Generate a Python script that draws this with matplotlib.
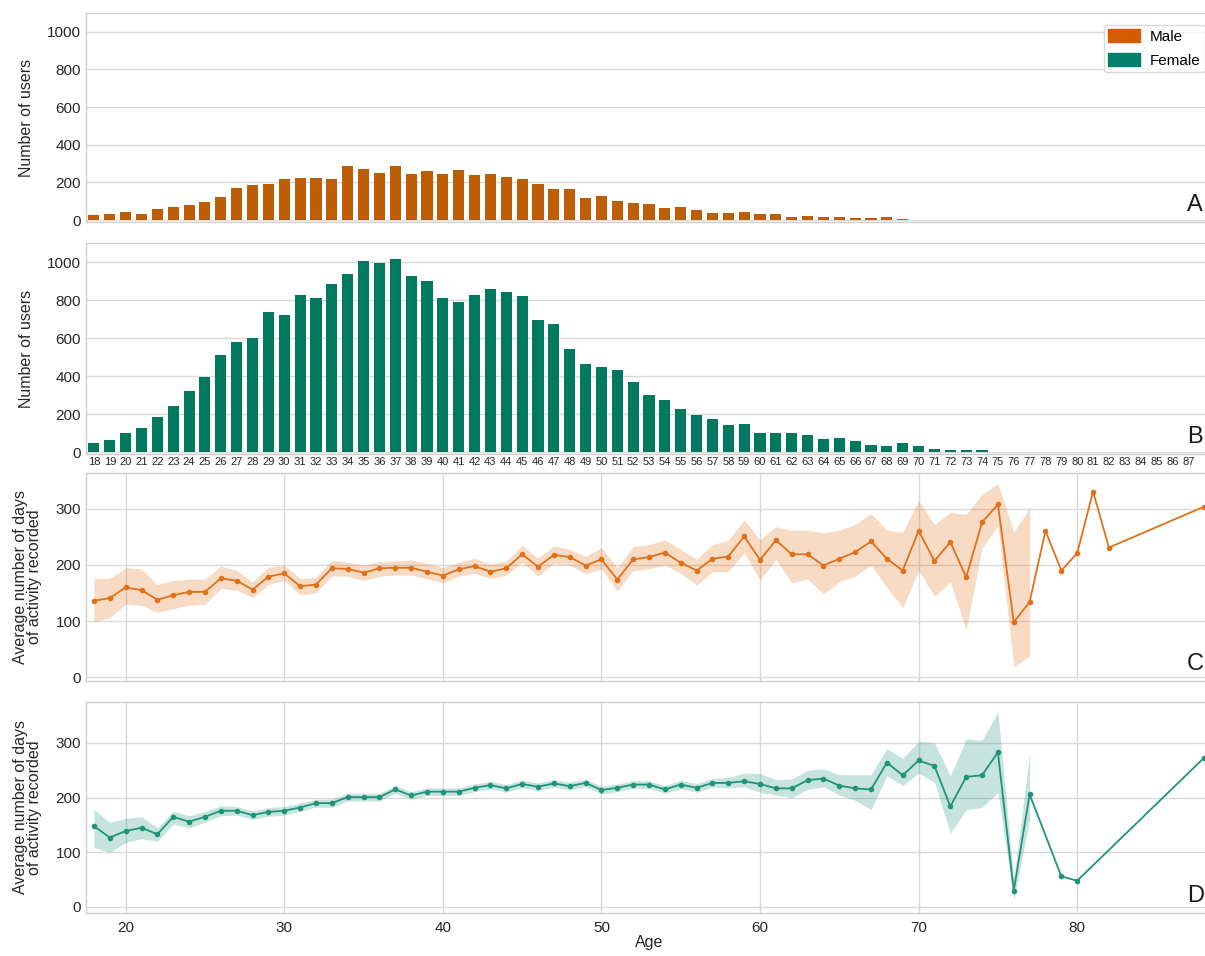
import numpy as np
import matplotlib
matplotlib.use("Agg")
import matplotlib.pyplot as plt
from matplotlib.patches import Patch

plt.rcParams["font.family"] = ["Liberation Sans", "DejaVu Sans"]

# Ages and user counts per age (panels A and B)
ages = list(range(18, 89))
male_counts = [25, 35, 42, 35, 57, 71, 81, 95, 124, 170,
               187, 194, 217, 224, 224, 217, 290, 272, 249, 290,
               244, 260, 244, 265, 237, 243, 227, 220, 192, 167,
               163, 115, 126, 101, 90, 85, 67, 71, 53, 39,
               39, 44, 32, 32, 16, 21, 16, 14, 11, 11,
               16, 7, 2, 2, 2, 2, 2, 2, 2, 2,
               1, 1, 1, 1, 1, 0, 0, 0, 0, 0, 1]
female_counts = [46, 63, 102, 127, 185, 245, 322, 396, 509, 581,
                 599, 738, 722, 827, 810, 886, 938, 1004, 996, 1014,
                 928, 898, 810, 787, 827, 856, 840, 819, 695, 672,
                 542, 463, 449, 432, 368, 302, 274, 226, 195, 174,
                 144, 149, 98, 102, 102, 91, 68, 72, 61, 39,
                 33, 46, 32, 16, 9, 9, 9, 3, 2, 2,
                 0, 1, 1, 0, 0, 0, 0, 0, 0, 0, 1]

# Average days of activity (panel C, male)
male_line_ages = list(range(18, 83)) + [88]
male_mean = [136, 141, 160, 155, 138, 146, 152, 152, 176, 172,
             156, 179, 185, 162, 165, 194, 193, 186, 194, 195,
             195, 188, 181, 192, 198, 188, 194, 219, 197, 218,
             214, 199, 210, 174, 210, 214, 222, 204, 190, 211,
             215, 251, 209, 244, 219, 219, 199, 211, 223, 242,
             211, 190, 261, 207, 241, 178, 276, 308, 98, 134,
             261, 190, 221, 331, 231, 304]
male_ci_ages = list(range(18, 78))
male_lo = [98, 106, 130, 128, 115, 122, 128, 130, 158, 155,
           142, 165, 172, 147, 150, 180, 180, 172, 180, 182,
           182, 175, 168, 180, 185, 176, 182, 205, 180, 202,
           200, 184, 193, 153, 190, 193, 200, 185, 164, 188,
           188, 222, 173, 210, 168, 175, 148, 170, 180, 200,
           160, 124, 190, 144, 170, 84, 230, 270, 18, 38]
male_hi = [176, 176, 195, 193, 165, 172, 175, 174, 198, 190,
           170, 196, 199, 176, 178, 208, 205, 200, 206, 207,
           209, 203, 195, 205, 212, 201, 207, 235, 212, 234,
           228, 215, 231, 195, 233, 236, 245, 228, 210, 236,
           244, 280, 245, 268, 262, 262, 257, 262, 272, 292,
           262, 258, 315, 272, 294, 290, 326, 345, 259, 302]

# Average days of activity (panel D, female)
female_line_ages = list(range(18, 78)) + [79, 80, 88]
female_mean = [148, 127, 139, 145, 133, 165, 156, 165, 176, 176,
               168, 174, 176, 182, 190, 190, 201, 201, 201, 215,
               204, 211, 211, 211, 218, 223, 217, 225, 220, 226,
               221, 227, 214, 218, 224, 224, 215, 224, 218, 227,
               227, 230, 225, 217, 217, 232, 235, 222, 217, 215,
               264, 241, 268, 258, 184, 238, 241, 283, 30, 206,
               56, 48, 273]
female_ci_ages = list(range(18, 78))
female_lo = [109, 100, 118, 125, 120, 152, 145, 155, 167, 168,
             160, 166, 168, 175, 183, 182, 194, 194, 194, 208,
             197, 204, 204, 204, 211, 216, 210, 218, 213, 219,
             214, 220, 207, 211, 217, 217, 208, 216, 210, 219,
             218, 220, 210, 205, 200, 215, 220, 205, 195, 178,
             240, 222, 245, 228, 135, 178, 182, 210, 13, 160]
female_hi = [178, 155, 162, 165, 145, 175, 167, 175, 185, 184,
             176, 182, 184, 190, 197, 197, 208, 208, 208, 222,
             211, 218, 218, 218, 225, 230, 224, 232, 227, 233,
             228, 234, 221, 225, 231, 231, 222, 232, 226, 235,
             237, 245, 244, 233, 234, 250, 253, 242, 242, 242,
             290, 272, 303, 300, 240, 307, 305, 357, 50, 282]

male_bar = "#bd5e06"
female_bar = "#00795f"
male_leg = "#d65b00"
female_leg = "#00806a"
male_line = "#e0711a"
female_line = "#1f9479"

W, H = 1205, 956
fig = plt.figure(figsize=(W / 100, H / 100), dpi=100)


def add_ax(top, bottom, left=86, right=1212):
    return fig.add_axes([left / W, 1 - bottom / H, (right - left) / W, (bottom - top) / H])


def style(ax):
    ax.set_facecolor("white")
    for s in ax.spines.values():
        s.set_color("#cfcfcf")
        s.set_linewidth(1.0)
    ax.grid(axis="y", color="#d9d9d9", linewidth=1.0)
    ax.set_axisbelow(True)
    ax.tick_params(length=0, labelsize=11, colors="#262626")


axA = add_ax(13, 222)
axB = add_ax(243, 454)
axC = add_ax(473, 681)
axD = add_ax(702, 913)

# Panels A and B: counts per age
for ax, counts, col in [(axA, male_counts, male_bar), (axB, female_counts, female_bar)]:
    style(ax)
    ax.bar(ages, counts, width=0.7, color=col)
    ax.set_ylim(-10, 1100)
    ax.set_yticks([0, 200, 400, 600, 800, 1000])
    ax.set_ylabel("Number of users", fontsize=11.5, color="#262626")
    ax.yaxis.set_label_coords(-0.046, 0.5)

axA.set_xticks([])
axB.set_xticks(ages[:-1])
axB.set_xticklabels([str(a) for a in ages[:-1]], fontsize=8)
axB.tick_params(axis="x", pad=2)

# Panels C and D: average days with confidence bands
for ax, xa, ya, xc, lo, hi, col, ylim in [
        (axC, male_line_ages, male_mean, male_ci_ages, male_lo, male_hi, male_line, (-7, 364)),
        (axD, female_line_ages, female_mean, female_ci_ages, female_lo, female_hi, female_line, (-11, 375))]:
    style(ax)
    ax.grid(axis="x", color="#d9d9d9", linewidth=1.0)
    ax.fill_between(xc, lo, hi, color=col, alpha=0.25, linewidth=0)
    ax.plot(xa, ya, color=col, linewidth=1.3, marker="o", markersize=4, markeredgewidth=0)
    ax.set_ylim(*ylim)
    ax.set_yticks([0, 100, 200, 300])
    ax.set_xticks([20, 30, 40, 50, 60, 70, 80])
    ax.set_ylabel("Average number of days\nof activity recorded", fontsize=11.5,
                  color="#262626", linespacing=0.95)
    ax.yaxis.set_label_coords(-0.039, 0.5)

axC.set_xticklabels([])
axD.tick_params(axis="x", pad=6)
axD.set_xlabel("Age", fontsize=11.5, color="#262626", labelpad=0)

for ax in [axA, axB, axC, axD]:
    ax.set_xlim(17.5, 88.5)

# Panel letters
for ax, letter in [(axA, "A"), (axB, "B"), (axC, "C"), (axD, "D")]:
    ax.text(0.978, 0.03, letter, transform=ax.transAxes, fontsize=17,
            ha="left", va="bottom", color="#1a1a1a")

handles = [Patch(color=male_leg, label="Male"), Patch(color=female_leg, label="Female")]
fig.legend(handles=handles, loc="upper left", bbox_to_anchor=(1096 / W, 1 - 17 / H),
           fontsize=11, frameon=True, edgecolor="#d0d0d0", handlelength=2.1,
           handleheight=0.9, borderpad=0.3, labelspacing=0.6, handletextpad=0.6,
           fancybox=True)

fig.savefig("out.png", dpi=100)
